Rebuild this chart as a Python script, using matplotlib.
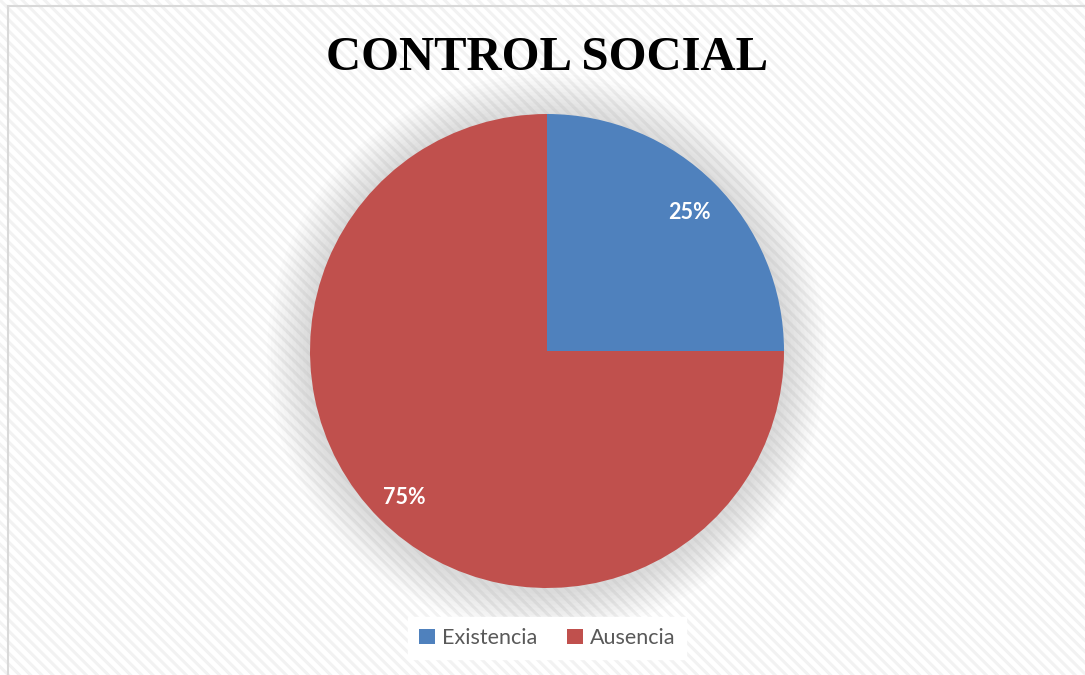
import matplotlib.pyplot as plt
from matplotlib.patches import Rectangle, Circle

# data
labels = ['Existencia', 'Ausencia']
values = [25, 75]
colors = ['#4F81BD', '#C0504D']
title = 'CONTROL SOCIAL'

W, H = 1085, 675
fig = plt.figure(figsize=(W / 100, H / 100), dpi=100)

# striped background
plt.rcParams['hatch.linewidth'] = 2.2
bg = Rectangle((0, 0), 1, 1, transform=fig.transFigure, facecolor='white',
               edgecolor='#F2F2F2', hatch='\\\\\\', linewidth=0, zorder=-10)
fig.patches.append(bg)
# chart border (top/left visible)
fig.add_artist(plt.Line2D([7.5 / W, 7.5 / W], [0, 1 - 6 / H], transform=fig.transFigure,
                          color='#D9D9D9', lw=1.5))
fig.add_artist(plt.Line2D([7.5 / W, 1], [1 - 6 / H, 1 - 6 / H], transform=fig.transFigure,
                          color='#D9D9D9', lw=1.5))

# pie axes, center (547,351) radius 237 px
cx, cy, r = 547, 351, 237
ax = fig.add_axes([(cx - r) / W, (H - cy - r) / H, 2 * r / W, 2 * r / H])
ax.set_aspect('equal')

# soft shadow
for i in range(12):
    ax.add_patch(Circle((0, -0.01), 1 + 0.015 * (12 - i), color='#888888', alpha=0.025,
                        lw=0, clip_on=False, zorder=0))

wedges, texts, autotexts = ax.pie(values, colors=colors, startangle=90, counterclock=False,
                                  autopct='%1.0f%%', pctdistance=0.85, radius=1,
                                  wedgeprops=dict(linewidth=0))
for wdg in wedges:
    wdg.set_zorder(2)
for t in autotexts:
    t.set_color('white')
    t.set_fontsize(15.5)
    t.set_fontweight('bold')
    t.set_fontfamily('Lato')
    t.set_zorder(3)
    x, y = t.get_position()
    t.set_position((x, y - 0.015))
ax.set_xlim(-1, 1)
ax.set_ylim(-1, 1)
ax.axis('off')

fig.text(cx / W, 1 - 70 / H, title, ha='center', va='baseline', fontsize=35,
         fontweight='bold', fontfamily='Liberation Serif', color='black')

leg = fig.legend(wedges, labels, loc='center', bbox_to_anchor=(cx / W, 1 - 638 / H),
                 ncol=2, frameon=True, fancybox=False, prop={'family': 'Lato', 'size': 15.5},
                 handlelength=0.75, handleheight=0.75, handletextpad=0.3, columnspacing=1.4,
                 borderpad=0.5)
leg.get_frame().set_facecolor('white')
leg.get_frame().set_edgecolor('white')
leg.get_frame().set_alpha(1)
for t in leg.get_texts():
    t.set_color('#595959')

fig.savefig('out.png', dpi=100)
